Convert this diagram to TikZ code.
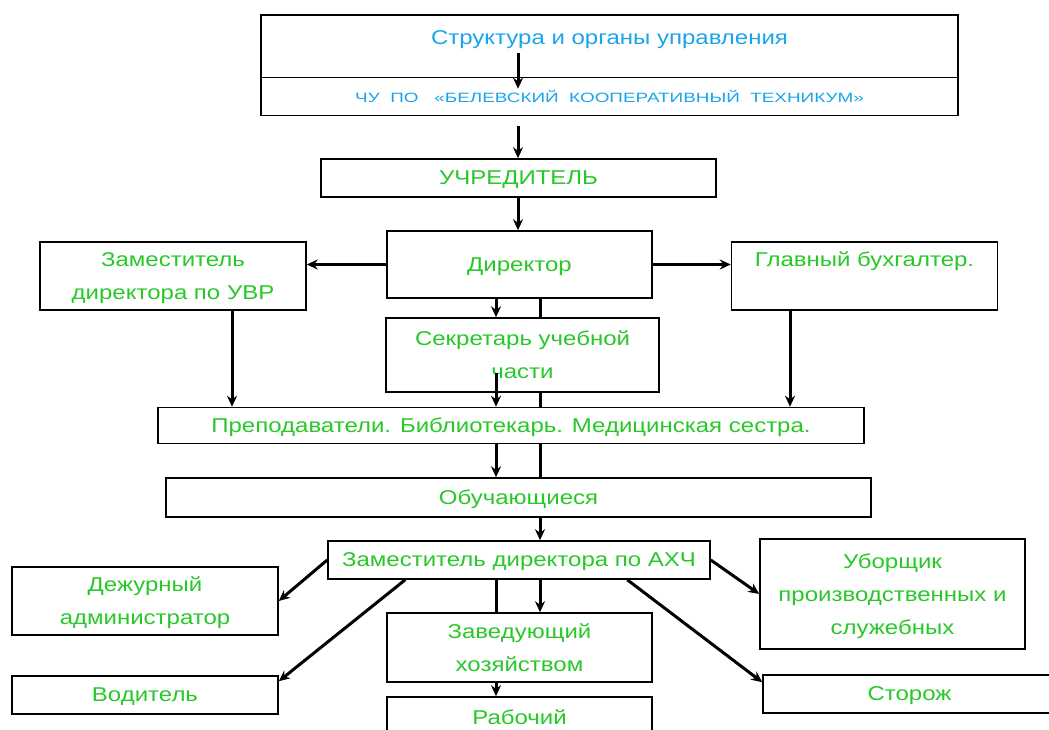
\documentclass[tikz,border=0pt]{standalone}
\usepackage{fontspec}
\setmainfont{Liberation Sans}[FakeStretch=1.2]
\newfontfamily\widefont{Liberation Sans}[FakeStretch=1.4]
\usepackage{xcolor}
\usepackage{tikz}
\usetikzlibrary{shapes, arrows.meta, calc}
\definecolor{orggreen}{RGB}{40,200,40}
\definecolor{orgblue}{RGB}{25,165,235}
\tikzstyle{process} = [rectangle, draw=black, line width=1.5pt, fill=white, text=orggreen, align=center, inner sep=0pt, text depth=0pt, font=\fontsize{20}{33}\selectfont]
\tikzstyle{title} = [process, text=orgblue]
\tikzstyle{arrow} = [line width=3pt, -{Stealth[length=11pt, width=10pt]}]
\tikzstyle{link} = [line width=3pt]

\begin{document}
\begin{tikzpicture}[x=1pt, y=-1pt]
\useasboundingbox (0,0) rectangle (1049,730);
\clip (0,0) rectangle (1049,730);

% vertical lines of the connectors
\coordinate (colM) at (518,0);
\coordinate (colA) at (496,0);
\coordinate (colB) at (540,0);
\coordinate (colL) at (232,0);
\coordinate (colR) at (790,0);

\node (struct) [title, minimum width=697pt, text height=30pt, text depth=33pt] at (609.5,46.5) {Структура и органы управления};
\node (chu) [title, minimum width=697pt, minimum height=38pt, font=\widefont\fontsize{13.5}{16}\selectfont] at (609.5,96.5) {ЧУ\ \ ПО\ \ \ «БЕЛЕВСКИЙ\ \ КООПЕРАТИВНЫЙ\ \ ТЕХНИКУМ»};

\node (uchr) [process, minimum width=395pt, minimum height=38pt] at (518.5,178) {УЧРЕДИТЕЛЬ};
\node (dir) [process, minimum width=265pt, minimum height=67pt] at (519.5,264.5) {Директор};
\node (zamuvr) [process, minimum width=266pt, minimum height=68pt] at (173,276) {Заместитель\\директора по УВР};
\node (buh) [process, minimum width=266pt, minimum height=68pt] at (864.5,276) {Главный бухгалтер.\\\mbox{}};
\node (sekr) [process, minimum width=273pt, minimum height=74pt] at (522.5,355) {Секретарь учебной\\части};
\node (prep) [process, minimum width=706pt, minimum height=36pt] at (511,425.5) {Преподаватели. Библиотекарь. Медицинская сестра.};
\node (obuch) [process, minimum width=705pt, minimum height=39pt] at (518.5,497.5) {Обучающиеся};
\node (zamahch) [process, minimum width=382pt, minimum height=38pt] at (519,560) {Заместитель директора по АХЧ};

\node (dezh) [process, minimum width=266pt, minimum height=68pt] at (145,601) {Дежурный\\администратор};
\node (vod) [process, minimum width=266pt, minimum height=38pt] at (145,695) {Водитель};
\node (ubor) [process, minimum width=265pt, minimum height=110pt] at (892.5,594) {Уборщик\\производственных и\\служебных};
\node (storozh) [process, minimum width=293pt, minimum height=38pt] at (909.5,694) {Сторож};
\node (zav) [process, minimum width=265pt, minimum height=69pt] at (519.5,647.5) {Заведующий\\хозяйством};
\node (rab) [process, minimum width=265pt, minimum height=40pt] at (519.5,717) {Рабочий};

% top part
\draw [arrow] ($(struct.south -| colM)+(0,-26)$) -- ($(chu.north -| colM)+(0,12)$);
\draw [arrow] ($(chu.south -| colM)+(0,10)$) -- (uchr.north -| colM);
\draw [arrow] (uchr.south -| colM) -- (dir.north -| colM);
\draw [arrow] (dir.west) -- (zamuvr.east |- dir.west);
\draw [arrow] (dir.east) -- (buh.west |- dir.east);

% middle part
\draw [arrow] (dir.south -| colA) -- (sekr.north -| colA);
\draw [link] (dir.south -| colB) -- (sekr.north -| colB);
\draw [arrow] ($(sekr.south -| colA)+(0,-20)$) -- (prep.north -| colA);
\draw [link] (sekr.south -| colB) -- (prep.north -| colB);
\draw [arrow] (zamuvr.south -| colL) -- (prep.north -| colL);
\draw [arrow] (buh.south -| colR) -- (prep.north -| colR);
\draw [arrow] (prep.south -| colA) -- (obuch.north -| colA);
\draw [link] (prep.south -| colB) -- (obuch.north -| colB);
\draw [arrow] (obuch.south -| colB) -- (zamahch.north -| colB);

% bottom part
\draw [arrow] (zamahch.west) -- (dezh.east);
\draw [arrow] ($(zamahch.south west)+(78,0)$) -- ($(vod.north east)+(0,6)$);
\draw [arrow] (zamahch.east) -- (ubor.west);
\draw [arrow] ($(zamahch.south west)+(300,0)$) -- ($(storozh.north west)+(0,8)$);
\draw [arrow] (zamahch.south -| colB) -- (zav.north -| colB);
\draw [link] (zamahch.south -| colA) -- (zav.north -| colA);
\draw [arrow] (zav.south -| colA) -- (rab.north -| colA);

\end{tikzpicture}
\end{document}
